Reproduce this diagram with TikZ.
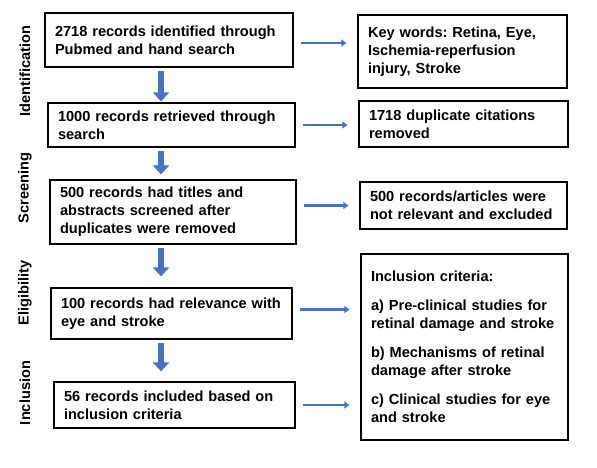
\documentclass[tikz,border=0pt]{standalone}
\usepackage{fontspec}
\setmainfont{Liberation Sans}
\usepackage{xcolor}
\usetikzlibrary{arrows.meta,positioning,calc}
\definecolor{flowblue}{RGB}{68,114,196}
\frenchspacing

\begin{document}
\begin{tikzpicture}[x=1pt,y=-1pt,
    box/.style={draw, line width=1.2pt, inner xsep=10pt, inner ysep=0pt, align=left,
        font=\fontsize{14.6}{18}\selectfont\bfseries},
    stage/.style={rotate=90, font=\fontsize{14.6}{18}\selectfont\bfseries},
    downarrow/.style={flowblue, line width=6pt, -{Triangle[width=16pt,length=9pt]}, shorten <=3pt},
    sidearrow/.style={flowblue, line width=2.2pt, -{Triangle[width=7pt,length=5pt]}, shorten <=7pt, shorten >=11pt}]
    \useasboundingbox (0,0) rectangle (597,468);

    % Stages
    \node[stage] (ident) at (25,71) {Identification};
    \node[stage] (screen) at (25,188) {Screening};
    \node[stage] (elig) at (25,293) {Eligibility};
    \node[stage] (incl) at (25,393) {Inclusion};

    % Records column
    \node[box, text width=228pt, minimum height=54pt] (rec1) at (169,40) {2718 records identified through\\Pubmed and hand search};
    \node[box, text width=227pt, minimum height=44pt] (rec2) at (171.5,125) {1000 records retrieved through\\search};
    \node[box, text width=226pt, minimum height=64pt] (rec3) at (173,212) {500 records had titles and\\abstracts screened after\\duplicates were removed};
    \node[box, text width=221pt, minimum height=51pt] (rec4) at (171.5,313.5) {100 records had relevance with\\eye and stroke};
    \node[box, text width=221pt, minimum height=46pt] (rec5) at (174.5,405) {56 records included based on\\inclusion criteria};

    % Side boxes
    \node[box, text width=189pt, minimum height=73pt] (keys) at (462.5,51.5) {Key words: Retina, Eye,\\Ischemia-reperfusion\\injury, Stroke};
    \node[box, text width=189pt, minimum height=46pt] (dupl) at (463.5,124) {1718 duplicate citations\\removed};
    \node[box, text width=187pt, minimum height=47pt] (excl) at (463.5,205.5) {500 records/articles were\\not relevant and excluded};
    \node[box, text width=187pt, minimum height=186pt] (crit) at (464.5,347) {Inclusion criteria:\\[11pt]
        a) Pre-clinical studies for\\retinal damage and stroke\\[11pt]
        b) Mechanisms of retinal\\damage after stroke\\[11pt]
        c) Clinical studies for eye\\and stroke};

    % Down arrows
    \coordinate (spine) at (161,0);
    \draw[downarrow, shorten >=1pt] (rec1.south -| spine) -- (rec2.north -| spine);
    \draw[downarrow, shorten >=5pt] (rec2.south -| spine) -- (rec3.north -| spine);
    \draw[downarrow, shorten >=11pt] (rec3.south -| spine) -- (rec4.north -| spine);
    \draw[downarrow, shorten >=10pt] (rec4.south -| spine) -- (rec5.north -| spine);

    % Side arrows
    \draw[sidearrow] ([yshift=-3pt]rec1.east) -- ([yshift=-3pt]rec1.east -| keys.west);
    \draw[sidearrow] (rec2.east) -- (rec2.east -| dupl.west);
    \draw[sidearrow] (excl.west -| rec3.east) -- (excl.west);
    \draw[sidearrow] ([yshift=4pt]rec4.east) -- ([yshift=4pt]rec4.east -| crit.west);
    \draw[sidearrow] (rec5.east) -- (rec5.east -| crit.west);
\end{tikzpicture}
\end{document}
